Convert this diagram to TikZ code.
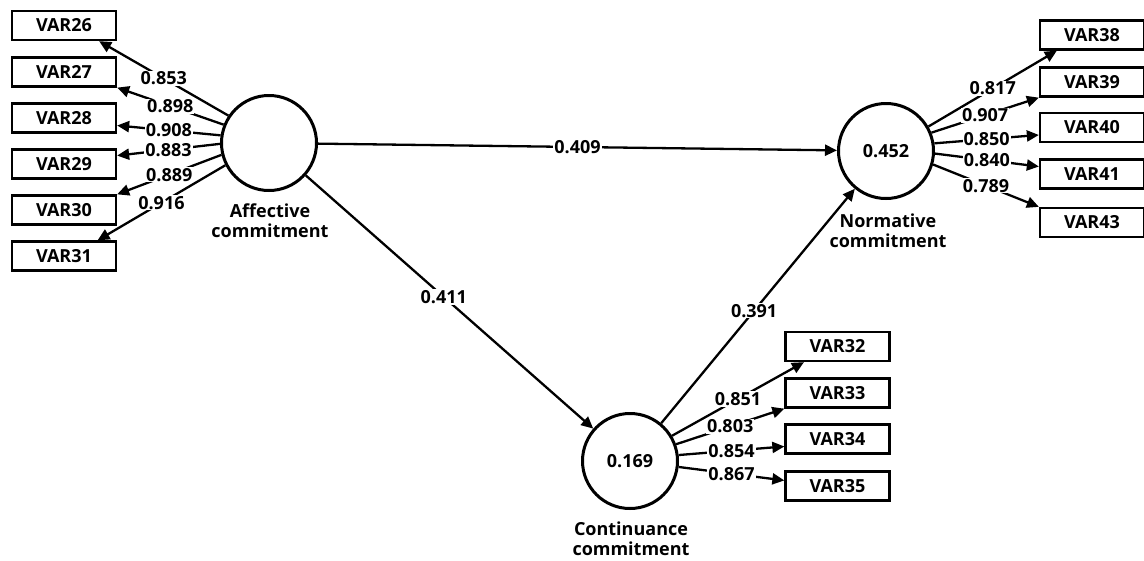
\documentclass[tikz,border=0pt]{standalone}
\usepackage{fontspec}
\setmainfont{Open Sans}
\usetikzlibrary{arrows.meta}
\begin{document}
\begin{tikzpicture}[x=1pt,y=1pt,
  every node/.style={font=\bfseries\fontsize{18}{20}\selectfont},
  ind/.style={draw, line width=2.3pt, minimum width=104pt, minimum height=29pt, inner sep=0pt},
  lat/.style={draw, circle, line width=3pt, minimum size=95pt, inner sep=0pt},
  load/.style={line width=2.3pt, -{Triangle[length=12pt,width=11pt]}},
  coef/.style={fill=white, inner sep=1pt, pos=0.5},
  latname/.style={align=center, inner sep=0pt}
]
\useasboundingbox (0,0) rectangle (1144,-560);

% Latent constructs
\node[lat] (aff)  at (269,-143) {};
\node[lat] (norm) at (886,-151) {0.452};
\node[lat] (cont) at (630,-461) {0.169};
\node[latname] (affl)  at (270,-221) {Affective\\commitment};
\node[latname] (norml) at (888,-231) {Normative\\commitment};
\node[latname] (contl) at (631,-539) {Continuance\\commitment};

% Indicators of affective commitment
\node[ind] (v26) at (64,-25.5) {VAR26};
\node[ind] (v27) at (64,-72)   {VAR27};
\node[ind] (v28) at (64,-118)  {VAR28};
\node[ind] (v29) at (64,-164)  {VAR29};
\node[ind] (v30) at (64,-210)  {VAR30};
\node[ind] (v31) at (64,-256)  {VAR31};

% Indicators of normative commitment
\node[ind] (v38) at (1092,-35)    {VAR38};
\node[ind] (v39) at (1092,-82)    {VAR39};
\node[ind] (v40) at (1092,-127.5) {VAR40};
\node[ind] (v41) at (1092,-174)   {VAR41};
\node[ind] (v43) at (1092,-222.5) {VAR43};

% Indicators of continuance commitment
\node[ind] (v32) at (837.5,-346.5) {VAR32};
\node[ind] (v33) at (837.5,-393)   {VAR33};
\node[ind] (v34) at (837.5,-439)   {VAR34};
\node[ind] (v35) at (837.5,-486)   {VAR35};

% Outer loadings
\draw[load] (aff.146) -- node[coef]{0.853} (v26.-24.5);
\draw[load] (aff.158) -- node[coef]{0.898} (v27.south east);
\draw[load] (aff.171) -- node[coef]{0.908} (v28.-8.6);
\draw[load] (aff.181) -- node[coef]{0.883} (v29.9.6);
\draw[load] (aff.194) -- node[coef]{0.889} (v30.north east);
\draw[load] (aff.207) -- node[coef]{0.916} (v31.25);

\draw[load] (norm.30.6) -- node[coef]{0.817} (v38.204.5);
\draw[load] (norm.22)   -- node[coef]{0.907} (v39.south west);
\draw[load] (norm.9)    -- node[coef]{0.850} (v40.188);
\draw[load] (norm.-3.5) -- node[coef]{0.840} (v41.172);
\draw[load] (norm.-16)  -- node[coef]{0.789} (v43.north west);

\draw[load] (cont.31)   -- node[coef]{0.851} (v32.205);
\draw[load] (cont.20.5) -- node[coef]{0.803} (v33.south west);
\draw[load] (cont.7)    -- node[coef]{0.854} (v34.188);
\draw[load] (cont.-7)   -- node[coef]{0.867} (v35.174);

% Path coefficients
\draw[load] (aff)  -- node[coef]{0.409} (norm);
\draw[load] (aff)  -- node[coef,pos=0.48]{0.411} (cont);
\draw[load] (cont) -- node[coef,pos=0.48]{0.391} (norm);
\end{tikzpicture}
\end{document}
